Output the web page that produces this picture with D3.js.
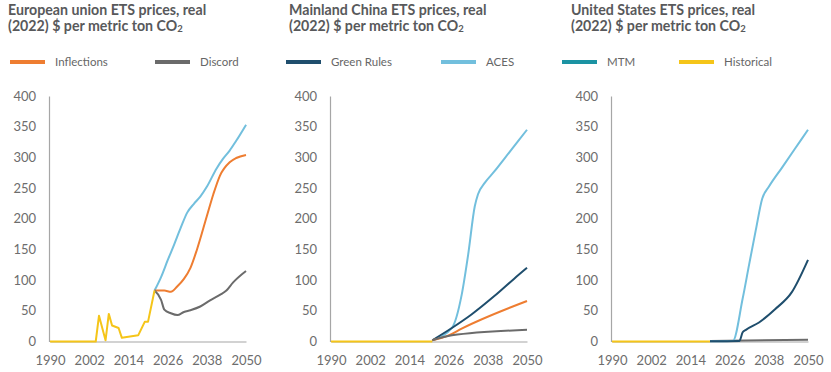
<!DOCTYPE html>
<html>
<head>
<meta charset="utf-8">
<script src="https://cdn.jsdelivr.net/npm/d3@7"></script>
<style>
  body { margin: 0; background: #fff; }
  svg { display: block; }
</style>
</head>
<body>
<div id="chart"></div>
<script>
// tick values shared by the three panels
const YEAR_TICKS = [1990, 2002, 2014, 2026, 2038, 2050];
const VALUE_TICKS = [0, 50, 100, 150, 200, 250, 300, 350, 400];

// European union, [year, $/t]
const euHistorical = [[1990, 0], [2004, 0], [2005, 42], [2007, 2], [2008, 45], [2009, 26], [2011, 22],
  [2012, 6], [2017, 10], [2019, 32], [2020, 32], [2022, 83]];
const euAces = [[2022, 83], [2024, 105], [2026, 132], [2028, 158], [2030, 185], [2032, 210], [2034, 224],
  [2036, 236], [2038, 252], [2041, 282], [2043, 298], [2045, 311], [2047, 327], [2050, 353]];
const euInflections = [[2022, 83], [2025, 83], [2027, 81], [2029, 90], [2031, 102], [2033, 120], [2035, 150],
  [2038, 204], [2040, 240], [2042, 270], [2045, 292], [2047, 299], [2050, 304]];
const euDiscord = [[2022, 83], [2024, 68], [2025, 52], [2027, 46], [2029, 43], [2031, 48], [2033, 51],
  [2036, 57], [2039, 67], [2042, 76], [2044, 83], [2046, 96], [2050, 115]];

// Mainland China
const chinaHistorical = [[1990, 0], [2021, 0]];
const chinaAces = [[2021, 2], [2027, 22], [2030, 76], [2032, 142], [2034, 220], [2035, 240], [2037, 258],
  [2040, 277], [2045, 311], [2050, 345]];
const chinaGreenRules = [[2021, 2], [2027, 22], [2033, 44], [2040, 74], [2046, 102], [2050, 120]];
const chinaInflections = [[2021, 2], [2026, 10], [2030, 21], [2050, 66]];
const chinaDiscord = [[2021, 2], [2027, 10], [2050, 19]];

// United States
const usHistorical = [[1990, 0], [2020, 0]];
const usAces = [[2020, 0.5], [2027, 1], [2030, 70], [2032, 126], [2034, 181], [2036, 233], [2038, 252],
  [2042, 283], [2046, 314], [2050, 345]];
const usGreenRules = [[2020, 0.5], [2029, 1], [2030, 15], [2031, 19], [2035, 31], [2040, 53], [2045, 80], [2050, 133]];
const usDiscord = [[2020, 1], [2050, 3]];

const colors = {
  Inflections: "#ee7d31",
  Discord: "#6b6b6b",
  "Green Rules": "#1f4e6d",
  ACES: "#72bfdd",
  MTM: "#1b93a3",
  Historical: "#f5c519"
};

const panels = [
  { x0: 50, titleX: 8, title: "European union ETS prices, real",
    series: [["ACES", euAces], ["Inflections", euInflections], ["Discord", euDiscord], ["Historical", euHistorical]] },
  { x0: 331, titleX: 289, title: "Mainland China ETS prices, real",
    series: [["ACES", chinaAces], ["Green Rules", chinaGreenRules], ["Inflections", chinaInflections],
      ["Discord", chinaDiscord], ["Historical", chinaHistorical]] },
  { x0: 612, titleX: 571, title: "United States ETS prices, real",
    series: [["Discord", usDiscord], ["ACES", usAces], ["Green Rules", usGreenRules], ["Historical", usHistorical]] }
];

const legendItems = [["Inflections", 10], ["Discord", 155], ["Green Rules", 286], ["ACES", 441], ["MTM", 562], ["Historical", 679]];

const FONT = "Lato, 'Open Sans', sans-serif";

const svg = d3.select("#chart").append("svg")
  .attr("width", 831)
  .attr("height", 372);

/////////////////////// Legend ///////////////////////
const legend = svg.append("g");
legendItems.forEach(([name, lx]) => {
  legend.append("line")
    .attr("x1", lx).attr("x2", lx + 35)
    .attr("y1", 62).attr("y2", 62)
    .attr("stroke", colors[name])
    .attr("stroke-width", 4);
  legend.append("text")
    .attr("x", lx + 45).attr("y", 66)
    .attr("font-family", FONT)
    .attr("font-size", 11.5)
    .attr("fill", "#666")
    .text(name);
});

/////////////////////// Panels ///////////////////////
panels.forEach(p => {
  const x = d3.scaleLinear().domain([1990, 2050]).range([p.x0, p.x0 + 196]);
  const y = d3.scaleLinear().domain([0, 400]).range([341.5, 96]);

  // title, two lines
  const t = svg.append("g")
    .attr("font-family", FONT)
    .attr("font-weight", "bold")
    .attr("font-size", 14.2)
    .attr("fill", "#58595b");
  t.append("text").attr("x", p.titleX).attr("y", 15).text(p.title);
  const t2 = t.append("text").attr("x", p.titleX).attr("y", 30.5).text("(2022) $ per metric ton CO");
  t2.append("tspan").attr("font-size", 9.5).attr("dy", 1.5).text("2");

  // axes
  const gy = svg.append("g")
    .attr("transform", `translate(${p.x0 - 1},0)`)
    .call(d3.axisLeft(y).tickValues(VALUE_TICKS).tickSize(0).tickPadding(13));
  const gx = svg.append("g")
    .attr("transform", "translate(0,341.5)")
    .call(d3.axisBottom(x).tickValues(YEAR_TICKS).tickFormat(d3.format("d")).tickSize(0).tickPadding(14));
  [gx, gy].forEach(g => {
    g.attr("font-family", FONT).attr("font-size", 13);
    g.select(".domain").attr("stroke", "#a6a6a6").attr("stroke-width", 1.2);
    g.selectAll("text").attr("fill", "#6d6d6d");
  });

  // lines
  p.series.forEach(([name, values]) => {
    const line = d3.line()
      .x(d => x(d[0]))
      .y(d => y(d[1]))
      .curve(name === "Historical" ? d3.curveLinear : d3.curveMonotoneX);
    svg.append("path")
      .datum(values)
      .attr("d", line)
      .attr("fill", "none")
      .attr("stroke", colors[name])
      .attr("stroke-width", 2)
      .attr("stroke-linejoin", "round");
  });
});
</script>
</body>
</html>
